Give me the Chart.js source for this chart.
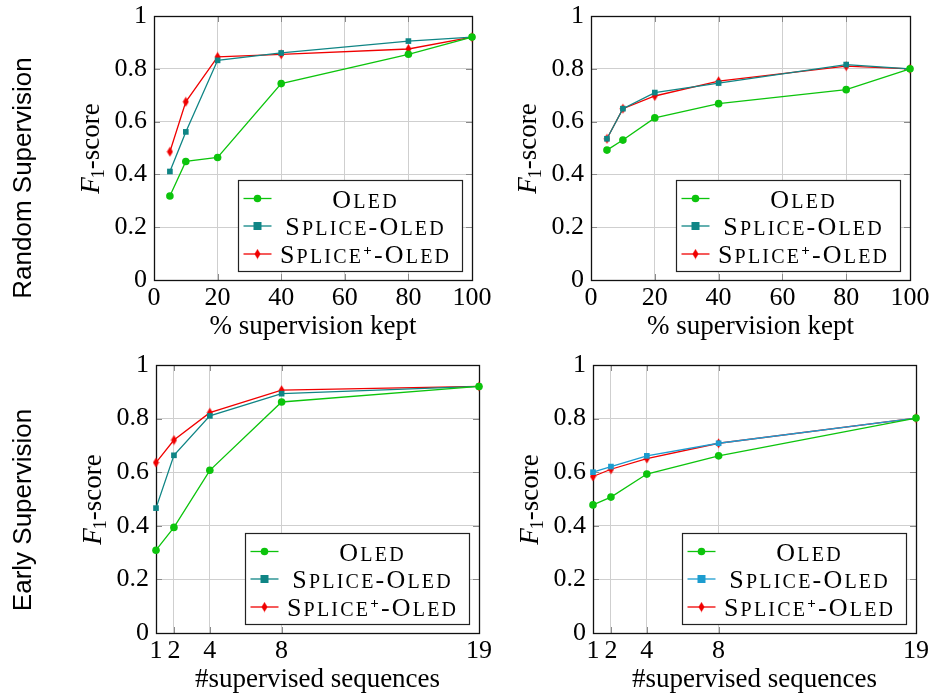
<!DOCTYPE html>
<html>
<head>
<meta charset="utf-8">
<script src="https://cdn.jsdelivr.net/npm/chart.js@4/dist/chart.umd.min.js"></script>
<style>
    body { margin: 0; background: #fff; }
    #wrap { position: relative; width: 929px; height: 697px; overflow: hidden; }
    canvas { position: absolute; left: 0; top: 0; }
    .row {
        position: absolute;
        font-family: "Liberation Sans", Arial, sans-serif;
        font-size: 26px;
        white-space: nowrap;
        transform: translate(-50%, -50%) rotate(-90deg);
        color: #000;
    }
</style>
</head>
<body>
<div id="wrap">
    <canvas id="tl" width="929" height="697"></canvas>
    <canvas id="tr" width="929" height="697"></canvas>
    <canvas id="bl" width="929" height="697"></canvas>
    <canvas id="br" width="929" height="697"></canvas>
    <div class="row" style="left: 22px; top: 178px;">Random Supervision</div>
    <div class="row" style="left: 22px; top: 510px;">Early Supervision</div>
</div>
<script>
// x values
const KEPT = [5, 10, 20, 40, 80, 100];
const SEQS = [1, 2, 4, 8, 19];
const KEPT_TICKS = [0, 20, 40, 60, 80, 100];
const SEQ_TICKS = [1, 2, 4, 8, 19];

// random supervision, left
const RL_OLED = [0.318, 0.449, 0.464, 0.744, 0.855, 0.920];
const RL_SPLICE = [0.411, 0.561, 0.832, 0.860, 0.905, 0.920];
const RL_PLUS = [0.486, 0.675, 0.845, 0.855, 0.875, 0.920];

// random supervision, right
const RR_OLED = [0.492, 0.530, 0.614, 0.668, 0.721, 0.800];
const RR_SPLICE = [0.535, 0.649, 0.710, 0.746, 0.816, 0.800];
const RR_PLUS = [0.535, 0.649, 0.697, 0.753, 0.810, 0.800];

// early supervision, left
const EL_OLED = [0.309, 0.394, 0.607, 0.862, 0.920];
const EL_SPLICE = [0.466, 0.663, 0.810, 0.893, 0.920];
const EL_PLUS = [0.636, 0.720, 0.822, 0.906, 0.920];

// early supervision, right
const ER_OLED = [0.478, 0.507, 0.593, 0.661, 0.802];
const ER_SPLICE = [0.600, 0.621, 0.661, 0.708, 0.802];
const ER_PLUS = [0.584, 0.611, 0.651, 0.708, 0.802];

const LABELS = ["Oled", "Splice-Oled", "Splice\u207A-Oled"];

const GREEN = "#0cc40c";
const TEAL = "#0f8585";
const BLUE = "#1c9ccf";
const RED = "#f00000";

const SERIF = "'Liberation Serif', 'Times New Roman', serif";
const YW = 80;   // y scale width
const XH = 63;   // x scale height

// slim diamond marker like pgfplots diamond*
function diamond(color) {
    let c = document.createElement("canvas");
    c.width = 7;
    c.height = 11;
    let g = c.getContext("2d");
    g.fillStyle = color;
    g.beginPath();
    g.moveTo(3.5, 0.5);
    g.lineTo(6.5, 5.5);
    g.lineTo(3.5, 10.5);
    g.lineTo(0.5, 5.5);
    g.closePath();
    g.fill();
    return c;
}
const DIAMOND = diamond(RED);

function series(xs, ys) {
    return xs.map((x, i) => ({ x: x, y: ys[i] }));
}

function dataset(label, xs, ys, color, style) {
    return {
        label: label,
        data: series(xs, ys),
        borderColor: color,
        backgroundColor: color,
        borderWidth: 1.3,
        pointStyle: style,
        pointRadius: style === "rect" ? 4 : 3.8,
        pointBorderWidth: 0,
        tension: 0,
        clip: false
    };
}

// small caps by hand: capitals big, lower case as smaller capitals
const BIG = "26px " + SERIF;
const SMALL = "20px " + SERIF;
const SUP = "bold 15px " + SERIF;
const SPACING = 2.2;

function capsParts(ctx, text) {
    let parts = [];
    for (const ch of text) {
        let font = BIG, s = ch, dy = 0;
        if (ch === "\u207A") { font = SUP; s = "+"; dy = -8; }
        else if (ch !== ch.toUpperCase()) { font = SMALL; s = ch.toUpperCase(); }
        ctx.font = font;
        parts.push({ s: s, font: font, dy: dy, w: ctx.measureText(s).width });
    }
    return parts;
}

function drawCaps(ctx, text, cx, baseY) {
    const parts = capsParts(ctx, text);
    let total = parts.reduce((t, p) => t + p.w, 0) + SPACING * (parts.length - 1);
    let x = cx - total / 2;
    ctx.textAlign = "left";
    ctx.textBaseline = "alphabetic";
    parts.forEach(p => {
        ctx.font = p.font;
        ctx.fillText(p.s, x, baseY + p.dy);
        x += p.w + SPACING;
    });
}

// frame, inward ticks, y title and legend
const decor = {
    id: "decor",
    beforeDatasetsDraw(chart) {
        const a = chart.chartArea;
        const ctx = chart.ctx;
        ctx.save();
        ctx.strokeStyle = "#8a8a8a";
        ctx.lineWidth = 1;
        ctx.beginPath();
        chart.scales.x.ticks.forEach(t => {
            let x = Math.round(chart.scales.x.getPixelForValue(t.value)) + 0.5;
            ctx.moveTo(x, a.bottom); ctx.lineTo(x, a.bottom - 6);
            ctx.moveTo(x, a.top); ctx.lineTo(x, a.top + 6);
        });
        chart.scales.y.ticks.forEach(t => {
            let y = Math.round(chart.scales.y.getPixelForValue(t.value)) + 0.5;
            ctx.moveTo(a.left, y); ctx.lineTo(a.left + 6, y);
            ctx.moveTo(a.right, y); ctx.lineTo(a.right - 6, y);
        });
        ctx.stroke();
        ctx.strokeStyle = "#111";
        ctx.lineWidth = 1.3;
        ctx.strokeRect(Math.round(a.left) + 0.5, Math.round(a.top) + 0.5,
            Math.round(a.right - a.left), Math.round(a.bottom - a.top));

        // y axis title: F_1-score
        ctx.translate(a.left - 55, (a.top + a.bottom) / 2);
        ctx.rotate(-Math.PI / 2);
        ctx.fillStyle = "#000";
        ctx.textBaseline = "alphabetic";
        ctx.textAlign = "left";
        const fF = "italic 27px " + SERIF;
        const fSub = "18px " + SERIF;
        const fRest = "27px " + SERIF;
        ctx.font = fF; const wF = ctx.measureText("F").width;
        ctx.font = fSub; const w1 = ctx.measureText("1").width;
        ctx.font = fRest; const wR = ctx.measureText("-score").width;
        let x0 = -(wF + w1 + wR) / 2;
        ctx.font = fF; ctx.fillText("F", x0, 0);
        ctx.font = fSub; ctx.fillText("1", x0 + wF - 1, 5);
        ctx.font = fRest; ctx.fillText("-score", x0 + wF + w1 - 1, 0);
        ctx.restore();
    },
    afterDatasetsDraw(chart) {
        const a = chart.chartArea;
        const ctx = chart.ctx;
        const w = 224, h = 91;
        const lx = Math.round(a.right - 10 - w) + 0.5;
        const ly = Math.round(a.bottom - 9 - h) + 0.5;
        ctx.save();
        ctx.fillStyle = "#fff";
        ctx.fillRect(lx, ly, w, h);
        ctx.strokeStyle = "#222";
        ctx.lineWidth = 1.2;
        ctx.strokeRect(lx, ly, w, h);
        const rows = [18, 45.5, 73.5];
        chart.data.datasets.forEach((ds, i) => {
            const cy = ly + rows[i];
            ctx.strokeStyle = ds.borderColor;
            ctx.lineWidth = 1.3;
            ctx.beginPath();
            ctx.moveTo(lx + 5, cy);
            ctx.lineTo(lx + 33, cy);
            ctx.stroke();
            ctx.fillStyle = ds.backgroundColor;
            const mx = lx + 19;
            if (ds.pointStyle === "rect") {
                ctx.fillRect(mx - 4, cy - 4, 8, 8);
            } else if (ds.pointStyle === "circle") {
                ctx.beginPath();
                ctx.arc(mx, cy, 3.8, 0, Math.PI * 2);
                ctx.fill();
            } else {
                ctx.drawImage(ds.pointStyle, mx - 3.5, cy - 5.5);
            }
            ctx.fillStyle = "#000";
            drawCaps(ctx, ds.label, lx + 126, cy + 9);
        });
        ctx.restore();
    }
};

function makeChart(id, area, xs, ticks, xTitle, ys, splColor) {
    const xMin = ticks[0];
    const xMax = ticks[ticks.length - 1];
    return new Chart(document.getElementById(id), {
        type: "line",
        data: {
            datasets: [
                dataset(LABELS[0], xs, ys[0], GREEN, "circle"),
                dataset(LABELS[1], xs, ys[1], splColor, "rect"),
                dataset(LABELS[2], xs, ys[2], RED, DIAMOND)
            ]
        },
        options: {
            responsive: false,
            animation: false,
            events: [],
            layout: {
                padding: {
                    left: area.l - YW,
                    top: area.t,
                    right: 929 - area.r,
                    bottom: 697 - area.b - XH
                }
            },
            plugins: {
                legend: { display: false },
                tooltip: { enabled: false }
            },
            scales: {
                x: {
                    type: "linear",
                    min: xMin,
                    max: xMax,
                    afterBuildTicks: s => { s.ticks = ticks.map(v => ({ value: v })); },
                    afterFit: s => {
                        s.height = XH;
                        s.paddingLeft = 0;
                        s.paddingRight = 0;
                    },
                    grid: { color: "#cfcfcf", lineWidth: 1, drawTicks: false },
                    border: { display: false },
                    ticks: {
                        padding: 3,
                        maxRotation: 0,
                        autoSkip: false,
                        color: "#000",
                        font: { family: SERIF, size: 26 }
                    },
                    title: {
                        display: true,
                        text: xTitle,
                        color: "#000",
                        padding: 0,
                        font: { family: SERIF, size: 27 }
                    }
                },
                y: {
                    min: 0,
                    max: 1,
                    afterFit: s => {
                        s.width = YW;
                        s.paddingTop = 0;
                        s.paddingBottom = 0;
                    },
                    grid: { color: "#cfcfcf", lineWidth: 1, drawTicks: false },
                    border: { display: false },
                    ticks: {
                        stepSize: 0.2,
                        padding: 7,
                        color: "#000",
                        font: { family: SERIF, size: 26 },
                        callback: v => String(Number(v.toFixed(1)))
                    }
                }
            }
        },
        plugins: [decor]
    });
}

makeChart("tl", { l: 154, t: 16, r: 472, b: 280 }, KEPT, KEPT_TICKS,
    "% supervision kept", [RL_OLED, RL_SPLICE, RL_PLUS], TEAL);
makeChart("tr", { l: 591, t: 16, r: 910, b: 280 }, KEPT, KEPT_TICKS,
    "% supervision kept", [RR_OLED, RR_SPLICE, RR_PLUS], TEAL);
makeChart("bl", { l: 156, t: 365, r: 479, b: 633 }, SEQS, SEQ_TICKS,
    "#supervised sequences", [EL_OLED, EL_SPLICE, EL_PLUS], TEAL);
makeChart("br", { l: 593, t: 365, r: 916, b: 633 }, SEQS, SEQ_TICKS,
    "#supervised sequences", [ER_OLED, ER_SPLICE, ER_PLUS], BLUE);
</script>
</body>
</html>
